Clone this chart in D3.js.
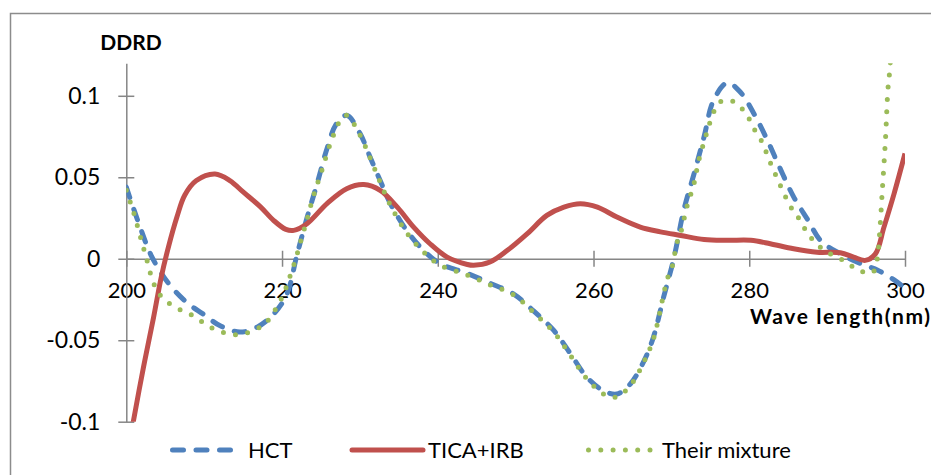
<!DOCTYPE html>
<html>
<head>
<meta charset="utf-8">
<script src="https://cdn.jsdelivr.net/npm/d3@7"></script>
<style>
  body { margin: 0; background: #fff; }
  text { font-family: Lato, "Open Sans", sans-serif; fill: #000; }
</style>
</head>
<body>
<div id="chart"></div>
<script>

// data: wavelength (nm) and DDRD value
var hct_wl = [200, 201.8, 203.3, 205.4, 207.8, 209.9, 212, 214.6, 216.8, 218.9, 220.6, 221.9, 223.2, 224.5, 225.8, 227, 228.3,
      230, 231.3, 232.6, 233.9, 236, 238.2, 240.3, 243.8, 246.7, 249.7, 252.3, 254.9, 257, 259.2, 261.3, 263, 264.7, 266.5,
      267.7, 269, 270.3, 271.6, 272.9, 274.2, 275.4, 277.2, 278.9, 280.6, 282.3, 284, 285.7, 287.5, 289.2, 291.7, 294.3,
      296.5, 298.6, 300]
var hct_val = [0.044, 0.019, 0.001, -0.015, -0.027, -0.034, -0.041, -0.045, -0.042, -0.034, -0.022, 0.002, 0.025, 0.046, 0.068, 0.083, 0.088,
      0.077, 0.0625, 0.048, 0.034, 0.0174, 0.005, -0.003, -0.009, -0.015, -0.0215, -0.032, -0.044, -0.058, -0.073, -0.081, -0.083, -0.077, -0.0625,
      -0.048, -0.0236, 0.0, 0.03, 0.052, 0.075, 0.097, 0.108, 0.102, 0.089, 0.073, 0.055, 0.038, 0.024, 0.011, 0.003, -0.003,
      -0.007, -0.013, -0.018]

var tica_wl = [200, 200.9, 202.2, 203.5, 204.5, 205.4, 206.5, 207.5, 209, 211.4, 213.3, 215, 217.2, 218.9, 220.5, 221.5, 223.2,
      225.8, 228.3, 230.5, 232.6, 234.8, 236.9, 239, 241.2, 243.8, 244.6, 246.7, 248.9, 251.5, 254, 256.2, 258.3, 260.5,
      263, 266, 268.6, 271.2, 274.2, 277.2, 280.2, 282.7, 285.7, 288.7, 291.7, 293.4, 294.9, 296.2, 297.3, 298.6, 300]
var tica_val = [-0.125, -0.1, -0.0667, -0.036, -0.011, 0.007, 0.0256, 0.039, 0.048, 0.052, 0.048, 0.041, 0.032, 0.0236, 0.018, 0.0174, 0.0215,
      0.034, 0.043, 0.0455, 0.042, 0.0317, 0.0194, 0.0092, 0.001, -0.0035, -0.004, -0.002, 0.005, 0.0154, 0.0266, 0.0317, 0.0338, 0.0317,
      0.0256, 0.0194, 0.0165, 0.0143, 0.0118, 0.0113, 0.0113, 0.0092, 0.0061, 0.004, 0.0037, 0.001, -0.001, 0.003, 0.0194, 0.040, 0.0646]

var mix_wl = [200, 200.9, 201.8, 202.6, 203.5, 204.3, 205.4, 206.8, 208.2, 209.5, 210.8, 212.3, 213.8, 215.3, 216.8, 218, 220,
      221, 221.7, 222.3, 223.2, 224, 225.1, 226.3, 227.5, 228.3, 230, 231.3, 232.6, 233.9, 236, 238.2, 240.3, 243.8, 246.7,
      249.7, 252.3, 254.9, 257, 259.2, 261.3, 262.8, 264.7, 266.5, 267.7, 269.5, 270.1, 270.7, 271.2, 272, 272.9, 273.5,
      274.4, 274.9, 276.2, 277.7, 278.9, 279.9, 280.7, 281.5, 282.7, 283.9, 285.3, 286.2, 287, 287.9, 288.9, 290.2, 291.7,
      293, 294.3, 295.8, 296.4, 296.7, 297.1, 297.5, 297.8, 298.1, 298.4]
var mix_val = [0.042, 0.029, 0.0137, 0.0, -0.015, -0.022, -0.027, -0.031, -0.034, -0.038, -0.042, -0.045, -0.0466, -0.0457, -0.043, -0.039, -0.0236,
      -0.011, -0.001, 0.009, 0.024, 0.038, 0.054, 0.072, 0.085, 0.088, 0.076, 0.062, 0.047, 0.033, 0.016, 0.004, -0.004, -0.010, -0.016,
      -0.022, -0.033, -0.045, -0.059, -0.074, -0.083, -0.085, -0.078, -0.063, -0.049, -0.012, -0.005, 0.0096, 0.016, 0.032, 0.046, 0.060,
      0.075, 0.083, 0.096, 0.097, 0.093, 0.0865, 0.079, 0.073, 0.059, 0.046, 0.032, 0.026, 0.0194, 0.013, 0.008, 0.0035, 0.0,
      -0.004, -0.0076, -0.0086, -0.001, 0.013, 0.043, 0.074, 0.1035, 0.119, 0.16]

var series_names = ["HCT", "TICA+IRB", "Their mixture"]
var x_ticks = [200, 220, 240, 260, 280, 300]
var y_ticks = [-0.1, -0.05, 0, 0.05, 0.1]

var blue = "#4F81BD", red = "#C0504D", green = "#9BBB59", grey = "#868686"

// dimensions and margins
var W = 931, H = 475
var margin = { top: 63.2, right: 26, bottom: 53.3, left: 126.3 },
      width = W - margin.left - margin.right,
      height = H - margin.top - margin.bottom

var svg = d3.select("#chart")
      .append("svg")
      .attr("width", W)
      .attr("height", H)

// chart frame (only top and left visible)
svg.append("path")
      .attr("d", "M10.5," + H + "V13.5H" + W)
      .attr("fill", "none")
      .attr("stroke", "#8c8c8c")
      .attr("stroke-width", 1.5)

var g = svg.append("g")
      .attr("transform", "translate(" + margin.left + "," + margin.top + ")")

var x = d3.scaleLinear().domain([200, 300]).range([0, width])
var y = d3.scaleLinear().domain([-0.1, 0.12]).range([height, 0])

g.append("clipPath").attr("id", "plot")
      .append("rect").attr("x", 0).attr("y", 0).attr("width", width).attr("height", height)

// x axis on the zero line
var xg = g.append("g")
      .attr("transform", "translate(0," + y(0) + ")")
      .call(d3.axisBottom(x).tickValues(x_ticks).tickSize(8).tickSizeOuter(0).tickPadding(16))
xg.selectAll("line").attr("y1", -8)
xg.selectAll("text").style("font-size", "22px")

var yg = g.append("g")
      .call(d3.axisLeft(y).tickValues(y_ticks).tickSize(8).tickSizeOuter(0).tickPadding(18)
            .tickFormat(function (d) { return d == 0 ? "0" : String(+d.toFixed(2)) }))
yg.selectAll("line").attr("x1", 8)
yg.selectAll("text").style("font-size", "23px")

g.selectAll(".domain, .tick line").attr("stroke", grey).attr("stroke-width", 1.5)

// series
var line = d3.line()
      .x(function (d) { return x(d[0]) })
      .y(function (d) { return y(d[1]) })
      .curve(d3.curveCatmullRom.alpha(0.5))

var series = [
      { wl: hct_wl, val: hct_val, color: blue, dash: "11,12.5", cap: "round" },
      { wl: tica_wl, val: tica_val, color: red, dash: null, cap: "butt" },
      { wl: mix_wl, val: mix_val, color: green, dash: "0,12.3", cap: "round" }
]

series.forEach(function (s) {
      var pts = d3.zip(s.wl, s.val)
      g.append("path")
            .datum(pts)
            .attr("clip-path", "url(#plot)")
            .attr("d", line)
            .attr("fill", "none")
            .attr("stroke", s.color)
            .attr("stroke-width", 5)
            .attr("stroke-linecap", s.cap)
            .attr("stroke-linejoin", "round")
            .attr("stroke-dasharray", s.dash)
})

// axis titles
svg.append("text")
      .attr("x", 131).attr("y", 50)
      .attr("text-anchor", "middle")
      .style("font-size", "21px").style("font-weight", "bold")
      .text("DDRD")

svg.append("text")
      .attr("x", 930).attr("y", 324)
      .attr("text-anchor", "end")
      .attr("textLength", 180)
      .attr("lengthAdjust", "spacing")
      .style("font-size", "21px").style("font-weight", "bold")
      .text("Wave length(nm)")

// legend
var legend_pos = [
      { x1: 172.5, x2: 231.5, tx: 248 },
      { x1: 352, x2: 423, tx: 428 },
      { x1: 588.5, x2: 651, tx: 662 }
]
var ly = 450

series.forEach(function (s, i) {
      var p = legend_pos[i]
      svg.append("line")
            .attr("x1", p.x1).attr("x2", p.x2)
            .attr("y1", ly).attr("y2", ly)
            .attr("stroke", s.color)
            .attr("stroke-width", 5)
            .attr("stroke-linecap", "round")
            .attr("stroke-dasharray", s.dash)
      svg.append("text")
            .attr("x", p.tx).attr("y", ly)
            .attr("dy", "0.35em")
            .style("font-size", "22px")
            .text(series_names[i])
})

</script>
</body>
</html>
